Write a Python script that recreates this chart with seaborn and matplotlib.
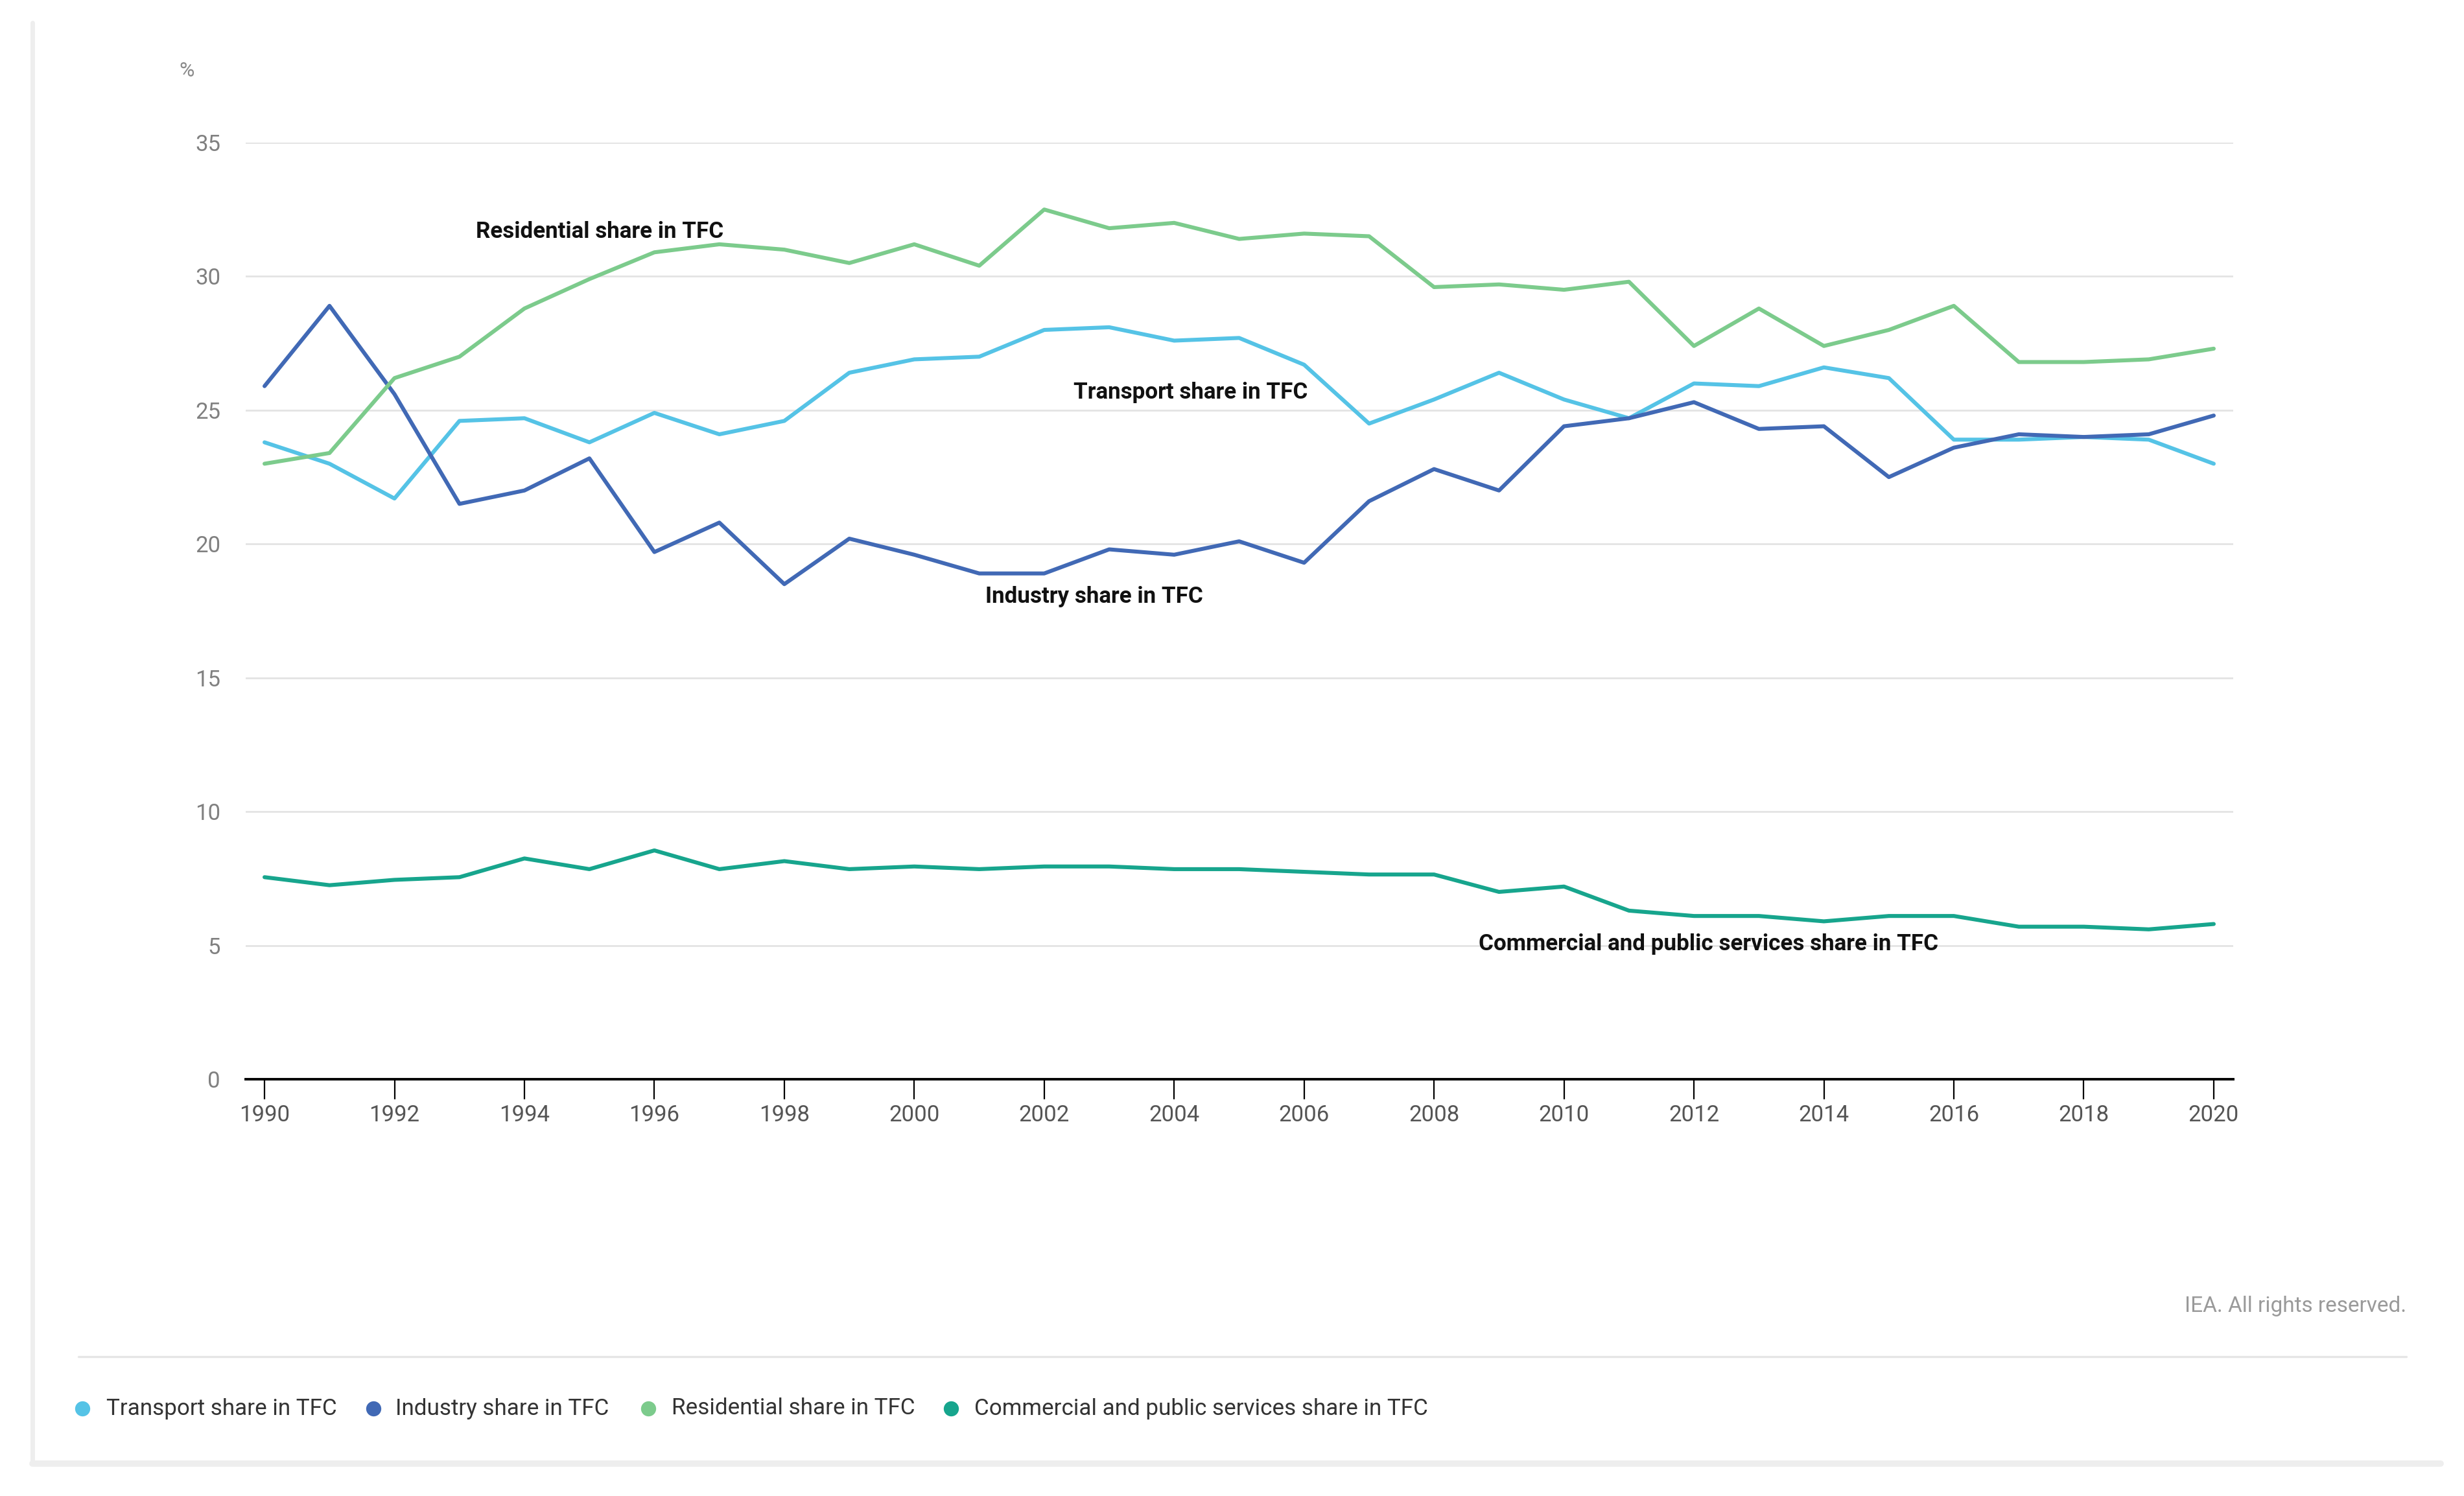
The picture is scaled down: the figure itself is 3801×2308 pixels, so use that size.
import matplotlib
matplotlib.use("Agg")
import matplotlib.pyplot as plt
import seaborn as sns
import pandas as pd
from matplotlib.lines import Line2D

years = list(range(1990, 2021))
transport = [23.8, 23.0, 21.7, 24.6, 24.7, 23.8, 24.9, 24.1, 24.6, 26.4, 26.9, 27.0, 28.0, 28.1,
             27.6, 27.7, 26.7, 24.5, 25.4, 26.4, 25.4, 24.7, 26.0, 25.9, 26.6, 26.2, 23.9, 23.9,
             24.0, 23.9, 23.0]
industry = [25.9, 28.9, 25.6, 21.5, 22.0, 23.2, 19.7, 20.8, 18.5, 20.2, 19.6, 18.9, 18.9, 19.8,
            19.6, 20.1, 19.3, 21.6, 22.8, 22.0, 24.4, 24.7, 25.3, 24.3, 24.4, 22.5, 23.6, 24.1,
            24.0, 24.1, 24.8]
residential = [23.0, 23.4, 26.2, 27.0, 28.8, 29.9, 30.9, 31.2, 31.0, 30.5, 31.2, 30.4, 32.5, 31.8,
               32.0, 31.4, 31.6, 31.5, 29.6, 29.7, 29.5, 29.8, 27.4, 28.8, 27.4, 28.0, 28.9, 26.8,
               26.8, 26.9, 27.3]
commercial = [7.55, 7.25, 7.45, 7.55, 8.25, 7.85, 8.55, 7.85, 8.15, 7.85, 7.95, 7.85, 7.95, 7.95,
              7.85, 7.85, 7.75, 7.65, 7.65, 7.0, 7.2, 6.3, 6.1, 6.1, 5.9, 6.1, 6.1, 5.7, 5.7,
              5.6, 5.8]

series_names = ["Transport share in TFC", "Industry share in TFC",
                "Residential share in TFC", "Commercial and public services share in TFC"]
series_values = [transport, industry, residential, commercial]
colors = ["#55C3E6", "#4169B5", "#7CCB8C", "#17A58D"]
y_ticks = [0, 5, 10, 15, 20, 25, 30, 35]
x_ticks = list(range(1990, 2021, 2))

rows = []
for name, vals in zip(series_names, series_values):
    for y, v in zip(years, vals):
        rows.append({"Year": y, "Share": v, "Series": name})
df = pd.DataFrame(rows)

sns.set_theme(style="white")
plt.rcParams["font.family"] = ["Roboto", "DejaVu Sans"]

W, H = 3801, 2308
DPI = 200
fig = plt.figure(figsize=(W / DPI, H / DPI), dpi=DPI)
fig.patch.set_facecolor("white")

left, right = 379 / W, 3445 / W
bottom, top = 1 - 1665 / H, 1 - 220 / H
ax = fig.add_axes([left, bottom, right - left, top - bottom])

palette = dict(zip(series_names, colors))
sns.lineplot(data=df, x="Year", y="Share", hue="Series", palette=palette,
             linewidth=2.2, ax=ax, legend=False, estimator=None, sort=True)

ax.set_xlim(1989.71, 2020.3)
ax.set_ylim(0, 35)
ax.set_yticks(y_ticks)
ax.set_xticks(x_ticks)
ax.set_xticklabels([str(t) for t in x_ticks])
ax.set_xlabel("")
ax.set_ylabel("")
ax.grid(axis="y", color="#e3e3e3", linewidth=1.0)
ax.grid(axis="x", visible=False)
ax.set_axisbelow(True)
for s in ["top", "right", "left"]:
    ax.spines[s].set_visible(False)
ax.spines["bottom"].set_color("black")
ax.spines["bottom"].set_linewidth(1.4)
ax.tick_params(axis="y", length=0, pad=14, labelsize=12.5, labelcolor="#808080")
ax.tick_params(axis="x", length=11, width=0.8, color="black", pad=3, labelsize=12.5,
               labelcolor="#555555", direction="out", bottom=True)

# % unit label
fig.text(288 / W, 1 - 110 / H, "%", fontsize=11.5, color="#8a8a8a", ha="center", va="center")

# inline annotations
ann_kw = dict(fontsize=12.6, fontweight="bold", color="#111111", ha="left", va="center")
ax.text(1993.25, 31.67, "Residential share in TFC", **ann_kw)
ax.text(2002.45, 25.67, "Transport share in TFC", **ann_kw)
ax.text(2001.09, 18.04, "Industry share in TFC", **ann_kw)
ax.text(2008.69, 5.06, "Commercial and public services share in TFC", **ann_kw)

# credit
fig.text(3712 / W, 1 - 2015 / H, "IEA. All rights reserved.", fontsize=12, color="#9a9a9a",
         ha="right", va="center")

# separator line above legend
fig.add_artist(Line2D([121 / W, 3712 / W], [1 - 2093 / H, 1 - 2093 / H],
                      transform=fig.transFigure, color="#e6e6e6", linewidth=1.2))
# card borders
fig.add_artist(Line2D([50 / W, 50 / W], [1 - 35 / H, 1 - 2258 / H],
                      transform=fig.transFigure, color="#eeeeee", linewidth=2.5))
fig.add_artist(Line2D([50 / W, 3765 / W], [1 - 2258 / H, 1 - 2258 / H],
                      transform=fig.transFigure, color="#eeeeee", linewidth=3.5))

# legend
marker_x = [127, 576, 1000, 1467]
text_x = [164, 610, 1036, 1503]
ly = 1 - 2173 / H
for mx, tx, name, c in zip(marker_x, text_x, series_names, colors):
    fig.add_artist(Line2D([mx / W], [ly], marker="o", markersize=9, color=c,
                          markeredgecolor="white", markeredgewidth=0.6,
                          linestyle="none", transform=fig.transFigure))
    fig.text(tx / W, ly, name, fontsize=12.6, color="#333333", ha="left", va="center")

fig.savefig("out.png", dpi=DPI, facecolor="white")
